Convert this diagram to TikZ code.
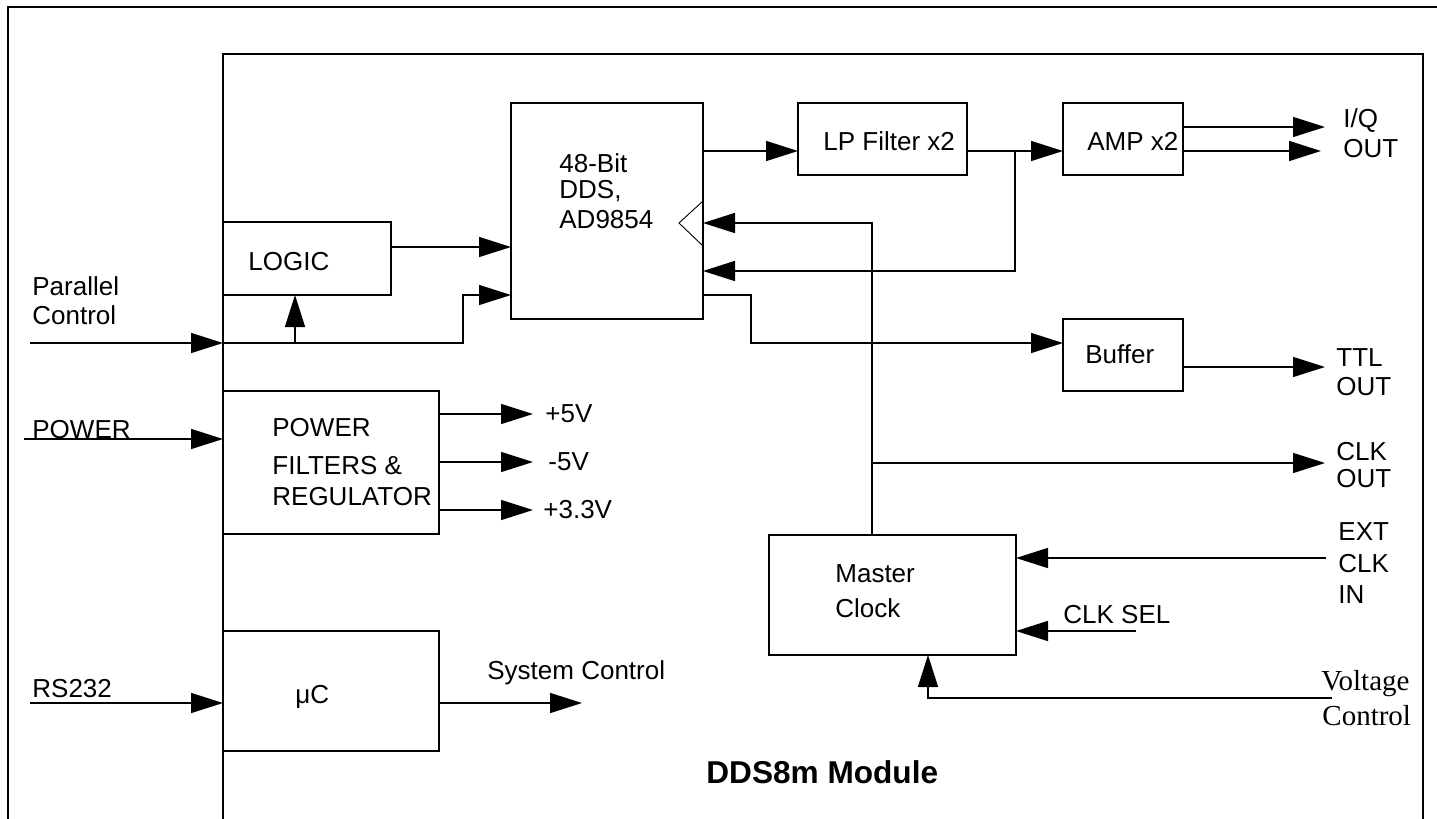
\documentclass[tikz,border=0pt]{standalone}
\usepackage{fontspec}
\setmainfont{Liberation Sans}
\newfontfamily\vcfont{Liberation Serif}
\usetikzlibrary{arrows.meta}

\tikzset{
  blk/.style={draw, line width=1pt, inner sep=0pt, outer sep=0pt, anchor=north west},
  wire/.style={line width=0.75pt},
  lbl/.style={anchor=base west, inner sep=0pt, font=\fontsize{13}{15}\selectfont},
  vclbl/.style={anchor=base west, inner sep=0pt, font=\vcfont\fontsize{14.5}{17}\selectfont},
}

\begin{document}
\begin{tikzpicture}[x=0.5pt, y=-0.5pt, >={Triangle[length=16pt,width=10pt]}]
\useasboundingbox (0,0) rectangle (1437,819);

% Cornici
\draw[line width=1pt] (8,819) -- (8,7) -- (1437,7);
\draw[line width=1.3pt] (223,819) -- (223,54) -- (1423,54) -- (1423,819);

% Blocchi
\node[blk, minimum width=84pt, minimum height=36.5pt] (lg) at (223,222) {};
\node[blk, minimum width=96pt, minimum height=108pt] (dds) at (511,103) {};
\node[blk, minimum width=84.5pt, minimum height=36pt] (lp) at (798,103) {};
\node[blk, minimum width=60pt, minimum height=36pt] (amp) at (1063,103) {};
\node[blk, minimum width=60pt, minimum height=36pt] (buf) at (1063,319) {};
\node[blk, minimum width=108pt, minimum height=71.5pt] (pwr) at (223,391) {};
\node[blk, minimum width=108pt, minimum height=60pt] (uc) at (223,631) {};
\node[blk, minimum width=123.5pt, minimum height=60pt] (mclk) at (769,535) {};

% Testi nei blocchi
\node[lbl] (lgt) at (248,270) {LOGIC};
\node[lbl] (ddst1) at (559,172) {48-Bit};
\node[lbl] (ddst2) at (559,198) {DDS,};
\node[lbl] (ddst3) at (559,228) {AD9854};
\node[lbl] (lpt) at (823,150) {LP Filter x2};
\node[lbl] (ampt) at (1087,150) {AMP x2};
\node[lbl] (buft) at (1085,363) {Buffer};
\node[lbl] (pwrt1) at (272,436) {POWER};
\node[lbl] (pwrt2) at (272,474) {FILTERS \&};
\node[lbl] (pwrt3) at (272,505) {REGULATOR};
\node[lbl] (uct) at (295,703) {μC};
\node[lbl] (mclkt1) at (835,582) {Master};
\node[lbl] (mclkt2) at (835,617) {Clock};

% Punti liberi
\coordinate (pcin) at (30,343);
\coordinate (pcm) at (223,343);
\coordinate (lgj) at (295,343);
\coordinate (pwin) at (24,439);
\coordinate (rsin) at (30,703);
\coordinate (sysc) at (582,703);
\coordinate (fb) at (1015,151);
\coordinate (ck) at (872,463);
\coordinate (ckout) at (1325,463);
\coordinate (iq1) at (1325,127);
\coordinate (iq2) at (1321,151);
\coordinate (ttl) at (1325,367);
\coordinate (extin) at (1326,558);
\coordinate (selin) at (1136,631);
\coordinate (vcin) at (1332,698);
\coordinate (vcj) at (928,698);

% Ingressi a sinistra
\draw[wire,->] (pcin) -- (pcm);
\draw[wire,->] (pcm) -- (463,343) |- (dds.west |- lg.south);
\draw[wire,->] (lgj) -- (lgj |- lg.south);
\draw[wire,->] (lg.east |- 0,247) -- (dds.west |- 0,247);
\draw[wire,->] (pwin) -- (pwr.west |- pwin);
\draw[wire,->] (rsin) -- (uc.west |- rsin);

% Catena del segnale
\draw[wire,->] (dds.east |- 0,151) -- (lp.west |- 0,151);
\draw[wire,->] (lp.east |- 0,151) -- (amp.west |- 0,151);
\draw[wire,->] (fb) |- (dds.east |- 0,271);
\draw[wire,->] (amp.east |- iq1) -- (iq1);
\draw[wire,->] (amp.east |- iq2) -- (iq2);
\draw[wire,->] (dds.east |- 0,295) -- (751,295) |- (buf.west |- 0,343);
\draw[wire,->] (buf.east |- ttl) -- (ttl);

% Clock
\draw[wire] (ck |- mclk.north) -- (ck);
\draw[wire,->] (ck) |- (dds.east |- 0,223);
\draw[wire,->] (ck) -- (ckout);
\draw[line width=0.45pt] (dds.east |- 0,201) -- (679,223) -- (dds.east |- 0,246);
\draw[wire,->] (extin) -- (mclk.east |- extin);
\draw[wire,->] (selin) -- (mclk.east |- selin);
\draw[wire,->] (vcin) -- (vcj) -- (vcj |- mclk.south);

% Alimentazioni e controllo
\foreach \y/\v/\x in {414/+5V/545, 462/-5V/548, 510/+3.3V/543} {
  \coordinate (v\y) at (533,\y);
  \draw[wire,->] (pwr.east |- v\y) -- (v\y);
  \node[lbl] (vt\y) at (\x,\y+8) {\v};
}
\draw[wire,->] (uc.east |- sysc) -- (sysc);

% Etichette esterne
\node[lbl] (pct1) at (32,295) {Parallel};
\node[lbl] (pct2) at (32,324) {Control};
\node[lbl] (pwt) at (32,438) {POWER};
\node[lbl] (rst) at (32,697) {RS232};
\node[lbl] (syst) at (487,679) {System Control};
\node[lbl] (iqt1) at (1343,127) {I/Q};
\node[lbl] (iqt2) at (1343,157) {OUT};
\node[lbl] (ttlt1) at (1336,366) {TTL};
\node[lbl] (ttlt2) at (1336,395) {OUT};
\node[lbl] (ckt1) at (1336,460) {CLK};
\node[lbl] (ckt2) at (1336,487) {OUT};
\node[lbl] (extt1) at (1338,540) {EXT};
\node[lbl] (extt2) at (1338,572) {CLK};
\node[lbl] (extt3) at (1338,603) {IN};
\node[lbl] (selt) at (1063,623) {CLK SEL};
\node[vclbl] (vct1) at (1321,690) {Voltage};
\node[vclbl] (vct2) at (1322,725) {Control};
\node[anchor=base west, inner sep=0pt, font=\bfseries\fontsize{15.8}{18}\selectfont] (modt) at (706,783) {DDS8m Module};

\end{tikzpicture}
\end{document}
